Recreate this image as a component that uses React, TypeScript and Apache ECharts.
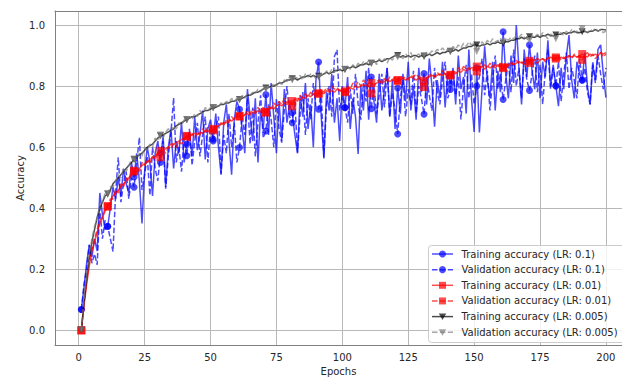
import React, { useEffect, useRef } from "react";
import * as echarts from "echarts";

const epochs: number[] = Array.from({ length: 200 }, (_, i) => i + 1);
const xTicks = [0, 25, 50, 75, 100, 125, 150, 175, 200];
const yTicks = [0, 0.2, 0.4, 0.6, 0.8, 1.0];

const trainLr01 = [
  0.068, 0.14, 0.22, 0.28, 0.24, 0.3, 0.26, 0.45, 0.38, 0.33,
  0.341, 0.4, 0.47, 0.43, 0.5, 0.44, 0.53, 0.48, 0.45, 0.55,
  0.502, 0.58, 0.49, 0.35, 0.52, 0.6, 0.55, 0.44, 0.58, 0.62,
  0.55, 0.64, 0.47, 0.6, 0.66, 0.53, 0.62, 0.58, 0.68, 0.55,
  0.61, 0.65, 0.57, 0.7, 0.59, 0.64, 0.72, 0.56, 0.66, 0.69,
  0.626, 0.71, 0.6, 0.51, 0.68, 0.74, 0.62, 0.51, 0.69, 0.75,
  0.724, 0.66, 0.58, 0.79, 0.7, 0.62, 0.76, 0.55, 0.72, 0.66,
  0.772, 0.64, 0.81, 0.7, 0.58, 0.75, 0.62, 0.79, 0.68, 0.74,
  0.713, 0.64, 0.58, 0.77, 0.7, 0.81, 0.66, 0.74, 0.6, 0.82,
  0.879, 0.7, 0.563, 0.78, 0.72, 0.84, 0.68, 0.76, 0.62, 0.8,
  0.729, 0.83, 0.66, 0.76, 0.7, 0.578, 0.8, 0.72, 0.85, 0.69,
  0.83, 0.75, 0.68, 0.84, 0.72, 0.79, 0.86, 0.7, 0.82, 0.66,
  0.794, 0.71, 0.84, 0.75, 0.88, 0.72, 0.8, 0.69, 0.86, 0.78,
  0.841, 0.74, 0.89, 0.8, 0.667, 0.82, 0.76, 0.88, 0.73, 0.84,
  0.808, 0.86, 0.74, 0.9, 0.79, 0.83, 0.71, 0.92, 0.76, 0.65,
  0.86, 0.648, 0.79, 0.93, 0.82, 0.76, 0.88, 0.72, 0.85, 0.78,
  0.978, 0.84, 0.76, 0.9, 0.81, 1.0, 0.86, 0.74, 0.92, 0.83,
  0.935, 0.85, 0.79, 0.91, 0.76, 0.88, 0.83, 0.95, 0.8, 0.87,
  0.802, 0.734, 0.86, 0.79, 0.9, 0.967, 0.82, 0.76, 0.88, 0.84,
  0.819, 0.91, 0.8, 0.74, 0.87, 0.82, 0.92, 0.935, 0.84, 0.762,
];

const valLr01 = [
  0.068, 0.15, 0.2, 0.28, 0.22, 0.25, 0.215, 0.4, 0.3, 0.36,
  0.34, 0.3, 0.258, 0.45, 0.567, 0.42, 0.48, 0.52, 0.431, 0.5,
  0.469, 0.55, 0.632, 0.46, 0.51, 0.57, 0.442, 0.6, 0.53, 0.49,
  0.58, 0.62, 0.464, 0.57, 0.65, 0.762, 0.55, 0.6, 0.52, 0.63,
  0.572, 0.66, 0.54, 0.62, 0.68, 0.57, 0.64, 0.7, 0.55, 0.67,
  0.62, 0.66, 0.7, 0.513, 0.64, 0.58, 0.71, 0.6, 0.68, 0.55,
  0.599, 0.7, 0.64, 0.76, 0.61, 0.73, 0.57, 0.68, 0.77, 0.63,
  0.653, 0.74, 0.69, 0.6, 0.76, 0.66, 0.615, 0.72, 0.8, 0.7,
  0.68, 0.75, 0.583, 0.71, 0.78, 0.64, 0.76, 0.69, 0.81, 0.73,
  0.724, 0.78, 0.567, 0.74, 0.8, 0.7, 0.897, 0.919, 0.72, 0.77,
  0.73, 0.68, 0.79, 0.71, 0.84, 0.74, 0.69, 0.81, 0.75, 0.86,
  0.726, 0.8, 0.71, 0.77, 0.84, 0.73, 0.859, 0.7, 0.78, 0.72,
  0.643, 0.76, 0.82, 0.7, 0.79, 0.74, 0.85, 0.71, 0.8, 0.76,
  0.708, 0.83, 0.77, 0.72, 0.86, 0.78, 0.74, 0.82, 0.88, 0.76,
  0.789, 0.85, 0.77, 0.83, 0.691, 0.8, 0.87, 0.76, 0.84, 0.74,
  0.8, 0.83, 0.89, 0.77, 0.85, 0.72, 0.82, 0.9, 0.79, 0.84,
  0.756, 0.82, 0.88, 0.78, 0.92, 0.8, 0.86, 0.76, 0.89, 0.82,
  0.786, 0.84, 0.9, 0.78, 0.87, 0.74, 0.85, 0.92, 0.79, 0.86,
  0.8, 0.88, 0.75, 0.84, 0.91, 0.79, 0.86, 0.82, 0.76, 0.89,
  0.82, 0.86, 0.78, 0.74, 0.88, 0.81, 0.9, 0.84, 0.79, 0.86,
];

const trainLr001 = [
  0.0, 0.08, 0.15, 0.21, 0.26, 0.29, 0.32, 0.35, 0.37, 0.39,
  0.407, 0.42, 0.44, 0.45, 0.46, 0.47, 0.48, 0.49, 0.5, 0.51,
  0.523, 0.52, 0.53, 0.54, 0.545, 0.55, 0.56, 0.565, 0.57, 0.58,
  0.588, 0.59, 0.595, 0.6, 0.61, 0.61, 0.615, 0.62, 0.625, 0.63,
  0.637, 0.635, 0.64, 0.645, 0.64, 0.65, 0.645, 0.655, 0.65, 0.66,
  0.655, 0.665, 0.67, 0.675, 0.68, 0.68, 0.69, 0.685, 0.695, 0.7,
  0.702, 0.7, 0.705, 0.71, 0.705, 0.715, 0.71, 0.72, 0.715, 0.72,
  0.713, 0.725, 0.73, 0.725, 0.735, 0.74, 0.735, 0.745, 0.74, 0.75,
  0.751, 0.755, 0.76, 0.755, 0.765, 0.76, 0.77, 0.765, 0.775, 0.77,
  0.775, 0.78, 0.775, 0.785, 0.78, 0.785, 0.78, 0.79, 0.785, 0.78,
  0.783, 0.79, 0.795, 0.79, 0.8, 0.795, 0.8, 0.805, 0.8, 0.81,
  0.81, 0.805, 0.81, 0.815, 0.81, 0.815, 0.82, 0.815, 0.82, 0.815,
  0.816, 0.82, 0.825, 0.82, 0.825, 0.83, 0.825, 0.82, 0.825, 0.82,
  0.818, 0.825, 0.83, 0.835, 0.83, 0.835, 0.84, 0.835, 0.84, 0.835,
  0.837, 0.845, 0.84, 0.85, 0.845, 0.855, 0.85, 0.855, 0.86, 0.86,
  0.864, 0.86, 0.865, 0.855, 0.865, 0.86, 0.865, 0.86, 0.87, 0.865,
  0.859, 0.865, 0.87, 0.875, 0.87, 0.875, 0.88, 0.875, 0.88, 0.885,
  0.883, 0.88, 0.885, 0.89, 0.885, 0.89, 0.885, 0.89, 0.895, 0.89,
  0.894, 0.89, 0.895, 0.89, 0.895, 0.9, 0.895, 0.9, 0.895, 0.9,
  0.905, 0.9, 0.895, 0.905, 0.9, 0.905, 0.9, 0.91, 0.905, 0.91,
];

const valLr001 = [
  0.0, 0.09, 0.16, 0.23, 0.27, 0.3, 0.33, 0.36, 0.37, 0.4,
  0.405, 0.43, 0.43, 0.46, 0.45, 0.48, 0.47, 0.5, 0.49, 0.52,
  0.52, 0.53, 0.52, 0.55, 0.54, 0.56, 0.55, 0.57, 0.56, 0.58,
  0.567, 0.59, 0.58, 0.6, 0.595, 0.61, 0.6, 0.62, 0.61, 0.625,
  0.635, 0.62, 0.645, 0.63, 0.65, 0.64, 0.66, 0.645, 0.665, 0.65,
  0.66, 0.67, 0.665, 0.68, 0.67, 0.69, 0.68, 0.7, 0.69, 0.71,
  0.7, 0.715, 0.705, 0.72, 0.71, 0.725, 0.715, 0.73, 0.72, 0.73,
  0.715, 0.735, 0.725, 0.745, 0.735, 0.75, 0.74, 0.76, 0.745, 0.755,
  0.734, 0.76, 0.75, 0.77, 0.76, 0.775, 0.765, 0.78, 0.77, 0.785,
  0.776, 0.79, 0.78, 0.795, 0.785, 0.8, 0.79, 0.795, 0.785, 0.79,
  0.78, 0.8, 0.79, 0.81, 0.8, 0.815, 0.8, 0.82, 0.81, 0.8,
  0.776, 0.8, 0.815, 0.82, 0.81, 0.825, 0.815, 0.83, 0.82, 0.83,
  0.82, 0.835, 0.825, 0.83, 0.82, 0.835, 0.83, 0.84, 0.83, 0.81,
  0.797, 0.82, 0.835, 0.84, 0.83, 0.845, 0.835, 0.85, 0.84, 0.845,
  0.835, 0.85, 0.845, 0.86, 0.85, 0.865, 0.855, 0.86, 0.85, 0.855,
  0.848, 0.865, 0.86, 0.87, 0.86, 0.875, 0.865, 0.87, 0.86, 0.875,
  0.862, 0.875, 0.865, 0.88, 0.87, 0.885, 0.875, 0.88, 0.87, 0.885,
  0.876, 0.89, 0.88, 0.875, 0.885, 0.89, 0.88, 0.895, 0.885, 0.89,
  0.89, 0.9, 0.885, 0.895, 0.885, 0.9, 0.89, 0.905, 0.895, 0.9,
  0.886, 0.9, 0.91, 0.895, 0.905, 0.89, 0.9, 0.91, 0.895, 0.905,
];

const trainLr0005 = [
  0.0, 0.09, 0.17, 0.24, 0.29, 0.33, 0.37, 0.4, 0.42, 0.44,
  0.447, 0.46, 0.48, 0.49, 0.5, 0.51, 0.52, 0.53, 0.54, 0.55,
  0.56, 0.57, 0.575, 0.58, 0.59, 0.6, 0.605, 0.61, 0.62, 0.63,
  0.637, 0.64, 0.645, 0.65, 0.655, 0.66, 0.67, 0.675, 0.68, 0.685,
  0.69, 0.695, 0.7, 0.7, 0.705, 0.71, 0.715, 0.72, 0.72, 0.725,
  0.729, 0.73, 0.735, 0.74, 0.74, 0.745, 0.745, 0.75, 0.75, 0.755,
  0.756, 0.76, 0.765, 0.77, 0.77, 0.775, 0.78, 0.78, 0.785, 0.79,
  0.794, 0.795, 0.8, 0.8, 0.805, 0.81, 0.81, 0.815, 0.82, 0.82,
  0.824, 0.825, 0.82, 0.825, 0.83, 0.83, 0.835, 0.83, 0.835, 0.83,
  0.832, 0.835, 0.84, 0.845, 0.84, 0.845, 0.85, 0.85, 0.855, 0.85,
  0.854, 0.86, 0.86, 0.865, 0.86, 0.865, 0.87, 0.87, 0.875, 0.87,
  0.875, 0.88, 0.88, 0.885, 0.88, 0.885, 0.89, 0.89, 0.895, 0.9,
  0.9, 0.895, 0.9, 0.895, 0.9, 0.895, 0.9, 0.9, 0.895, 0.9,
  0.897, 0.9, 0.905, 0.9, 0.905, 0.91, 0.905, 0.91, 0.91, 0.915,
  0.913, 0.915, 0.92, 0.915, 0.92, 0.925, 0.925, 0.93, 0.93, 0.935,
  0.935, 0.93, 0.935, 0.935, 0.94, 0.935, 0.94, 0.94, 0.945, 0.94,
  0.94, 0.945, 0.945, 0.95, 0.95, 0.955, 0.955, 0.96, 0.955, 0.96,
  0.962, 0.96, 0.96, 0.965, 0.96, 0.965, 0.965, 0.97, 0.965, 0.965,
  0.967, 0.97, 0.97, 0.975, 0.97, 0.975, 0.975, 0.98, 0.975, 0.975,
  0.978, 0.98, 0.975, 0.98, 0.98, 0.985, 0.98, 0.985, 0.985, 0.984,
];

const valLr0005 = [
  0.0, 0.1, 0.18, 0.25, 0.3, 0.34, 0.37, 0.41, 0.42, 0.45,
  0.447, 0.47, 0.47, 0.49, 0.51, 0.5, 0.53, 0.52, 0.54, 0.56,
  0.561, 0.56, 0.58, 0.57, 0.6, 0.59, 0.61, 0.6, 0.63, 0.62,
  0.64, 0.63, 0.65, 0.66, 0.65, 0.67, 0.66, 0.68, 0.67, 0.69,
  0.69, 0.7, 0.69, 0.71, 0.7, 0.72, 0.71, 0.73, 0.72, 0.73,
  0.73, 0.74, 0.73, 0.745, 0.74, 0.75, 0.745, 0.76, 0.75, 0.76,
  0.755, 0.77, 0.76, 0.775, 0.77, 0.78, 0.775, 0.79, 0.78, 0.795,
  0.79, 0.8, 0.795, 0.81, 0.8, 0.815, 0.805, 0.82, 0.815, 0.83,
  0.82, 0.83, 0.825, 0.835, 0.82, 0.84, 0.83, 0.84, 0.835, 0.825,
  0.829, 0.84, 0.835, 0.85, 0.84, 0.855, 0.845, 0.86, 0.85, 0.865,
  0.855, 0.865, 0.855, 0.87, 0.86, 0.875, 0.865, 0.88, 0.87, 0.885,
  0.875, 0.885, 0.87, 0.89, 0.88, 0.89, 0.875, 0.895, 0.885, 0.9,
  0.895, 0.9, 0.89, 0.905, 0.895, 0.91, 0.885, 0.9, 0.905, 0.895,
  0.9, 0.91, 0.905, 0.915, 0.91, 0.92, 0.915, 0.925, 0.915, 0.92,
  0.915, 0.93, 0.92, 0.935, 0.925, 0.94, 0.93, 0.945, 0.935, 0.94,
  0.913, 0.93, 0.945, 0.935, 0.95, 0.94, 0.955, 0.945, 0.95, 0.94,
  0.945, 0.955, 0.95, 0.96, 0.955, 0.965, 0.96, 0.97, 0.96, 0.955,
  0.95, 0.965, 0.96, 0.97, 0.96, 0.975, 0.965, 0.955, 0.97, 0.965,
  0.955, 0.97, 0.975, 0.965, 0.98, 0.97, 0.985, 0.975, 0.98, 0.975,
  0.989, 0.98, 0.975, 0.985, 0.98, 0.99, 0.98, 0.985, 0.975, 0.98,
];

const seriesNames = [
  "Training accuracy (LR: 0.1)",
  "Validation accuracy (LR: 0.1)",
  "Training accuracy (LR: 0.01)",
  "Validation accuracy (LR: 0.01)",
  "Training accuracy (LR: 0.005)",
  "Validation accuracy (LR: 0.005)",
];

const FONT = "DejaVu Sans";
const BLUE = "rgba(0,0,255,0.7)";
const RED = "rgba(255,0,0,0.7)";
const BLACK = "rgba(0,0,0,0.7)";
const GRAY = "rgba(128,128,128,0.7)";
const DASH = [5.5, 2.4];

type Spec = { values: number[]; color: string; dashed: boolean; symbol: string };
const specs: Spec[] = [
  { values: trainLr01, color: BLUE, dashed: false, symbol: "circle" },
  { values: valLr01, color: BLUE, dashed: true, symbol: "circle" },
  { values: trainLr001, color: RED, dashed: false, symbol: "rect" },
  { values: valLr001, color: RED, dashed: true, symbol: "rect" },
  { values: trainLr0005, color: BLACK, dashed: false, symbol: "triangle" },
  { values: valLr0005, color: GRAY, dashed: true, symbol: "triangle" },
];

export default function App() {
  const ref = useRef<HTMLDivElement>(null);
  useEffect(() => {
    if (!ref.current) return;
    const chart = echarts.init(ref.current, null, { renderer: "svg" });

    const series = specs.map((s, idx) => ({
      name: seriesNames[idx],
      type: "line",
      data: epochs.map((e, i) => [e, s.values[i]]),
      showAllSymbol: true,
      symbol: (_v: any, p: any) => (p.dataIndex % 10 === 0 ? s.symbol : "none"),
      symbolSize: s.symbol === "rect" ? 8 : 7,
      symbolRotate: s.symbol === "triangle" ? 180 : 0,
      itemStyle: { color: s.color, borderWidth: 0 },
      lineStyle: { color: s.color, width: 1.5, type: s.dashed ? DASH : "solid" },
      emphasis: { disabled: true },
      z: 2 + idx,
    }));

    const legendGraphics: any[] = [
      {
        type: "rect",
        shape: { x: 428.5, y: 245.5, width: 210, height: 97, r: 3 },
        style: { fill: "rgba(255,255,255,0.8)", stroke: "#cccccc", lineWidth: 1 },
        z: 100,
      },
    ];
    specs.forEach((s, i) => {
      const cy = 254 + i * 15.65;
      legendGraphics.push({
        type: "line",
        shape: { x1: 432, y1: cy, x2: 453, y2: cy },
        style: { stroke: s.color, lineWidth: 1.5, lineDash: s.dashed ? DASH : null },
        z: 101,
      });
      if (s.symbol === "circle") {
        legendGraphics.push({ type: "circle", shape: { cx: 442.5, cy, r: 3.5 }, style: { fill: s.color }, z: 102 });
      } else if (s.symbol === "rect") {
        legendGraphics.push({ type: "rect", shape: { x: 439, y: cy - 3.5, width: 7, height: 7 }, style: { fill: s.color }, z: 102 });
      } else {
        legendGraphics.push({
          type: "polygon",
          shape: { points: [[438.8, cy - 3], [446.2, cy - 3], [442.5, cy + 3.5]] },
          style: { fill: s.color },
          z: 102,
        });
      }
      legendGraphics.push({
        type: "text",
        x: 461.5,
        y: cy,
        style: { text: seriesNames[i], font: `10px "${FONT}"`, fill: "#262626", verticalAlign: "middle", align: "left" },
        z: 103,
      });
    });

    chart.setOption({
      animation: false,
      backgroundColor: "#ffffff",
      textStyle: { fontFamily: FONT },
      grid: { left: 55, right: 0, top: 11, bottom: 33.7, containLabel: false },
      xAxis: [
        {
          type: "value",
          min: -9,
          max: 206.1,
          name: "Epochs",
          nameLocation: "middle",
          nameGap: 21,
          nameMoveOverlap: false,
          nameTextStyle: { fontFamily: FONT, fontSize: 10, color: "#262626" },
          axisLine: { show: true, onZero: false, lineStyle: { color: "#808080", width: 1 } },
          axisTick: { show: false, customValues: xTicks },
          axisLabel: { customValues: xTicks, fontFamily: FONT, fontSize: 10, color: "#262626", margin: 7 },
          splitLine: { show: true, lineStyle: { color: "#b8b8b8", width: 1 } },
        },
        {
          type: "value",
          position: "top",
          min: -9,
          max: 206.1,
          axisLine: { show: true, onZero: false, lineStyle: { color: "#808080", width: 1 } },
          axisTick: { show: false },
          axisLabel: { show: false },
          splitLine: { show: false },
        },
      ],
      yAxis: {
        type: "value",
        min: -0.048,
        max: 1.046,
        name: "Accuracy",
        nameLocation: "middle",
        nameGap: 30,
        nameMoveOverlap: false,
        nameTextStyle: { fontFamily: FONT, fontSize: 10, color: "#262626" },
        axisLine: { show: true, onZero: false, lineStyle: { color: "#808080", width: 1 } },
        axisTick: { show: false, customValues: yTicks },
        axisLabel: {
          customValues: yTicks,
          fontFamily: FONT,
          fontSize: 10,
          color: "#262626",
          margin: 10,
          formatter: (v: number) => v.toFixed(1),
        },
        splitLine: { show: true, lineStyle: { color: "#b8b8b8", width: 1 } },
      },
      series,
      graphic: legendGraphics,
    });
    return () => chart.dispose();
  }, []);
  return <div ref={ref} style={{ width: 622, height: 381, position: "absolute", left: 0, top: 0 }} />;
}
